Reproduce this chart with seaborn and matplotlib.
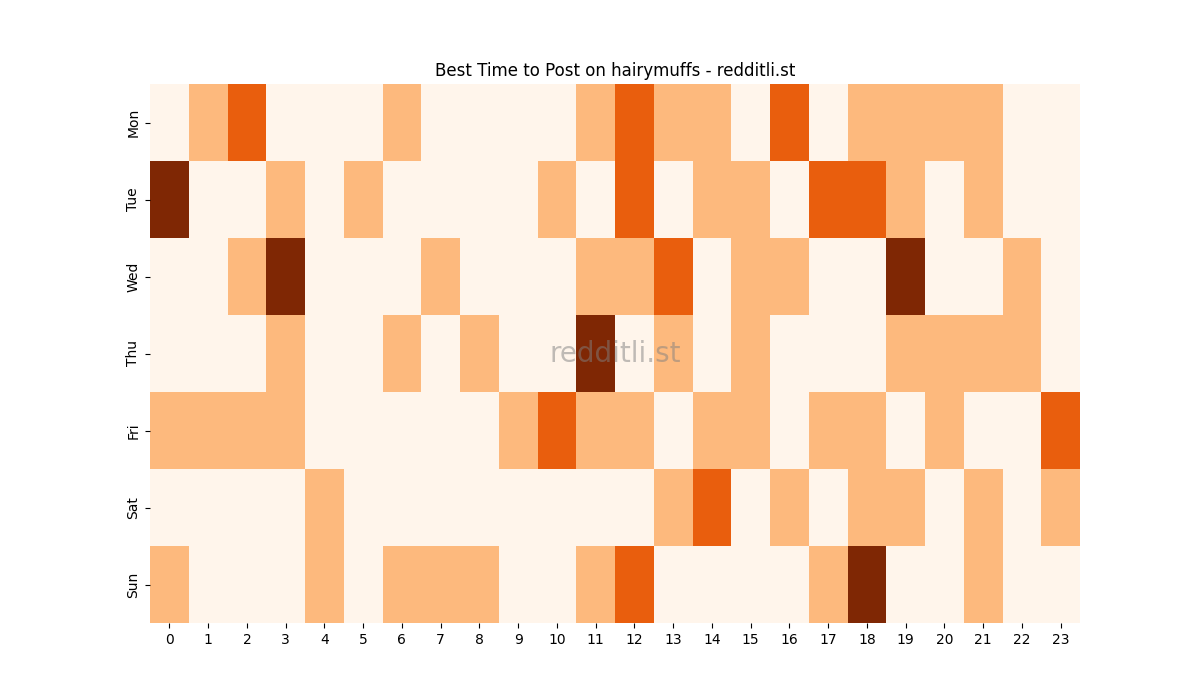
import pandas as pd
import matplotlib
matplotlib.use("Agg")
import matplotlib.pyplot as plt
import seaborn as sns

days = ["Mon", "Tue", "Wed", "Thu", "Fri", "Sat", "Sun"]
hours = list(range(24))

mon = [0, 1, 2, 0, 0, 0, 1, 0, 0, 0, 0, 1, 2, 1, 1, 0, 2, 0, 1, 1, 1, 1, 0, 0]
tue = [3, 0, 0, 1, 0, 1, 0, 0, 0, 0, 1, 0, 2, 0, 1, 1, 0, 2, 2, 1, 0, 1, 0, 0]
wed = [0, 0, 1, 3, 0, 0, 0, 1, 0, 0, 0, 1, 1, 2, 0, 1, 1, 0, 0, 3, 0, 0, 1, 0]
thu = [0, 0, 0, 1, 0, 0, 1, 0, 1, 0, 0, 3, 0, 1, 0, 1, 0, 0, 0, 1, 1, 1, 1, 0]
fri = [1, 1, 1, 1, 0, 0, 0, 0, 0, 1, 2, 1, 1, 0, 1, 1, 0, 1, 1, 0, 1, 0, 0, 2]
sat = [0, 0, 0, 0, 1, 0, 0, 0, 0, 0, 0, 0, 0, 1, 2, 0, 1, 0, 1, 1, 0, 1, 0, 1]
sun = [1, 0, 0, 0, 1, 0, 1, 1, 1, 0, 0, 1, 2, 0, 0, 0, 0, 1, 3, 0, 0, 1, 0, 0]

df = pd.DataFrame([mon, tue, wed, thu, fri, sat, sun], index=days, columns=hours)

fig, ax = plt.subplots(figsize=(12, 7), dpi=100)
sns.heatmap(df, cmap="Oranges", cbar=False, vmin=0, vmax=3, ax=ax)
ax.set_title("Best Time to Post on hairymuffs - redditli.st")
ax.text(0.5, 0.5, "redditli.st", transform=ax.transAxes, ha="center", va="center",
        fontsize=20, color="gray", alpha=0.5)
fig.savefig("out.png")
